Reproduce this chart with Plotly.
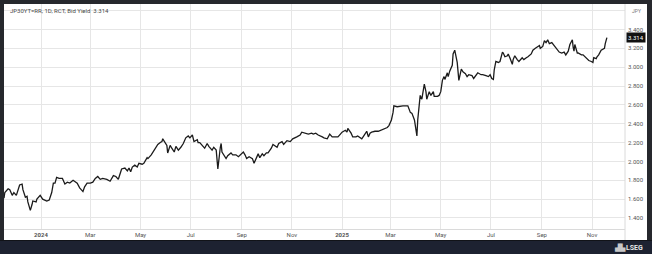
import plotly.graph_objects as go

dates = [
 "2023-11-17","2023-11-18","2023-11-22","2023-11-24","2023-11-27","2023-11-29","2023-12-02","2023-12-04","2023-12-06","2023-12-09",
 "2023-12-10","2023-12-13","2023-12-15","2023-12-16","2023-12-19","2023-12-21","2023-12-22","2023-12-26","2023-12-27","2023-12-31",
 "2024-01-02","2024-01-03","2024-01-08","2024-01-11","2024-01-14","2024-01-16","2024-01-18","2024-01-20","2024-01-23","2024-01-27",
 "2024-01-28","2024-01-30","2024-02-02","2024-02-05","2024-02-09","2024-02-14","2024-02-17","2024-02-21","2024-02-23","2024-02-26",
 "2024-03-01","2024-03-04","2024-03-07","2024-03-09","2024-03-10","2024-03-13","2024-03-16","2024-03-21","2024-03-25","2024-03-29",
 "2024-04-01","2024-04-04","2024-04-06","2024-04-08","2024-04-12","2024-04-15","2024-04-17","2024-04-19","2024-04-21","2024-04-24",
 "2024-04-27","2024-04-29","2024-05-03","2024-05-05","2024-05-09","2024-05-10","2024-05-14","2024-05-16","2024-05-19","2024-05-22",
 "2024-05-25","2024-05-27","2024-05-28","2024-05-31","2024-06-02","2024-06-03","2024-06-06","2024-06-08","2024-06-11","2024-06-13",
 "2024-06-16","2024-06-19","2024-06-22","2024-06-25","2024-06-28","2024-06-30","2024-07-03","2024-07-05","2024-07-09","2024-07-10",
 "2024-07-12","2024-07-16","2024-07-18","2024-07-21","2024-07-23","2024-07-27","2024-07-29","2024-08-01","2024-08-02","2024-08-03",
 "2024-08-06","2024-08-07","2024-08-08","2024-08-11","2024-08-13","2024-08-15","2024-08-19","2024-08-21","2024-08-25","2024-08-28",
 "2024-08-31","2024-09-03","2024-09-05","2024-09-07","2024-09-10","2024-09-14","2024-09-16","2024-09-20","2024-09-21","2024-09-23",
 "2024-09-26","2024-09-28","2024-10-01","2024-10-03","2024-10-07","2024-10-09","2024-10-12","2024-10-14","2024-10-16","2024-10-20",
 "2024-10-22","2024-10-26","2024-10-30","2024-11-02","2024-11-07","2024-11-11","2024-11-13","2024-11-17","2024-11-21","2024-11-25",
 "2024-11-27","2024-11-30","2024-12-03","2024-12-08","2024-12-10","2024-12-14","2024-12-17","2024-12-20","2024-12-23","2024-12-27",
 "2024-12-30","2025-01-01","2025-01-05","2025-01-07","2025-01-08","2025-01-12","2025-01-14","2025-01-18","2025-01-20","2025-01-25",
 "2025-01-28","2025-01-31","2025-02-02","2025-02-04","2025-02-06","2025-02-10","2025-02-14","2025-02-17","2025-02-20","2025-02-25",
 "2025-02-27","2025-03-02","2025-03-04","2025-03-05","2025-03-09","2025-03-13","2025-03-16","2025-03-21","2025-03-22","2025-03-25",
 "2025-03-27","2025-03-30","2025-04-01","2025-04-02","2025-04-03","2025-04-06","2025-04-08","2025-04-10","2025-04-11","2025-04-13",
 "2025-04-14","2025-04-17","2025-04-19","2025-04-22","2025-04-23","2025-04-27","2025-04-29","2025-05-01","2025-05-03","2025-05-05",
 "2025-05-06","2025-05-09","2025-05-10","2025-05-12","2025-05-15","2025-05-16","2025-05-18","2025-05-21","2025-05-22","2025-05-23",
 "2025-05-26","2025-05-28","2025-05-31","2025-06-02","2025-06-04","2025-06-08","2025-06-10","2025-06-13","2025-06-15","2025-06-19",
 "2025-06-21","2025-06-25","2025-06-28","2025-06-30","2025-07-02","2025-07-04","2025-07-05","2025-07-07","2025-07-10","2025-07-12",
 "2025-07-15","2025-07-16","2025-07-18","2025-07-21","2025-07-22","2025-07-24","2025-07-27","2025-07-28","2025-07-30","2025-08-02",
 "2025-08-04","2025-08-08","2025-08-10","2025-08-13","2025-08-15","2025-08-19","2025-08-21","2025-08-24","2025-08-26","2025-08-29",
 "2025-08-30","2025-09-02","2025-09-04","2025-09-06","2025-09-08","2025-09-10","2025-09-13","2025-09-15","2025-09-17","2025-09-19",
 "2025-09-22","2025-09-25","2025-09-28","2025-09-30","2025-10-03","2025-10-05","2025-10-08","2025-10-09","2025-10-10","2025-10-11",
 "2025-10-14","2025-10-15","2025-10-19","2025-10-21","2025-10-23","2025-10-26","2025-10-28","2025-10-31","2025-11-02","2025-11-03",
 "2025-11-06","2025-11-07","2025-11-09","2025-11-12","2025-11-14","2025-11-16","2025-11-17","2025-11-19",
]

yields = [
 1.61,1.67,1.71,1.70,1.64,1.67,1.64,1.70,1.75,1.76,
 1.70,1.62,1.63,1.57,1.48,1.54,1.58,1.57,1.60,1.64,
 1.62,1.60,1.58,1.59,1.67,1.77,1.77,1.83,1.82,1.82,
 1.80,1.76,1.78,1.77,1.80,1.77,1.72,1.68,1.73,1.77,
 1.77,1.78,1.82,1.83,1.84,1.81,1.82,1.81,1.79,1.85,
 1.84,1.81,1.86,1.92,1.93,1.90,1.93,1.89,1.94,1.96,
 1.94,1.98,1.97,1.98,2.04,2.03,2.07,2.10,2.15,2.18,
 2.20,2.21,2.24,2.20,2.17,2.09,2.17,2.14,2.10,2.16,
 2.12,2.15,2.19,2.25,2.27,2.25,2.28,2.21,2.23,2.20,
 2.20,2.16,2.14,2.19,2.16,2.12,2.15,2.12,2.04,1.92,
 2.15,2.19,2.10,2.05,2.03,2.06,2.09,2.07,2.07,2.05,
 2.07,2.10,2.07,2.03,2.05,2.03,1.98,2.05,2.08,2.04,
 2.08,2.06,2.09,2.09,2.14,2.18,2.16,2.15,2.19,2.21,
 2.18,2.22,2.21,2.24,2.26,2.28,2.31,2.30,2.29,2.30,
 2.29,2.30,2.28,2.26,2.25,2.24,2.29,2.26,2.26,2.26,
 2.29,2.31,2.33,2.31,2.35,2.30,2.26,2.26,2.27,2.24,
 2.28,2.32,2.26,2.30,2.31,2.32,2.32,2.33,2.34,2.36,
 2.38,2.44,2.52,2.59,2.58,2.59,2.59,2.59,2.59,2.52,
 2.51,2.44,2.33,2.27,2.44,2.70,2.66,2.76,2.82,2.74,
 2.66,2.74,2.70,2.74,2.69,2.69,2.70,2.74,2.86,2.90,
 2.87,2.94,2.90,2.96,3.02,3.14,3.18,3.05,2.97,2.86,
 2.98,2.95,2.93,2.90,2.92,2.91,2.88,2.91,2.94,2.92,
 2.92,2.91,2.90,2.92,2.88,2.87,2.97,3.06,3.05,3.06,
 3.16,3.15,3.11,3.12,3.14,3.10,3.03,3.08,3.12,3.08,
 3.06,3.10,3.08,3.10,3.11,3.14,3.18,3.20,3.21,3.23,
 3.20,3.22,3.28,3.26,3.29,3.25,3.26,3.24,3.22,3.19,
 3.16,3.15,3.16,3.13,3.17,3.24,3.29,3.21,3.17,3.24,
 3.15,3.15,3.13,3.13,3.11,3.08,3.07,3.06,3.05,3.10,
 3.09,3.11,3.13,3.18,3.19,3.20,3.25,3.314,
]

x_tick_vals = ["2024-01-01","2024-03-01","2024-05-01","2024-07-01","2024-09-01","2024-11-01",
               "2025-01-01","2025-03-01","2025-05-01","2025-07-01","2025-09-01","2025-11-01"]
x_tick_text = ["<b>2024</b>","Mar","May","Jul","Sep","Nov","<b>2025</b>","Mar","May","Jul","Sep","Nov"]
y_tick_vals = [1.4,1.6,1.8,2.0,2.2,2.4,2.6,2.8,3.0,3.2,3.4,3.6]
y_tick_text = ["1.400","1.600","1.800","2.000","2.200","2.400","2.600","2.800","3.000","3.200","3.400",""]

title_text = "JP30YT=RR, 1D, RCT, Bid Yield  3.314"
last_value = "3.314"

W, H = 652, 254
L, R, T, B = 4, 27, 4, 25
pw, ph = W - L - R, H - T - B

def px_x(p):
    return (p - L) / pw

def px_y(p):
    return (H - B - p) / ph

fig = go.Figure()
fig.add_trace(go.Scatter(x=dates, y=yields, mode="lines",
                         line=dict(color="#1b1b1b", width=1.3), hoverinfo="skip"))

font_fam = "Roboto, Arial, sans-serif"
fig.update_layout(
    width=W, height=H,
    margin=dict(l=L, r=R, t=T, b=B, pad=0),
    paper_bgcolor="#ffffff", plot_bgcolor="#ffffff",
    showlegend=False,
    font=dict(family=font_fam, size=6, color="#555555"),
    xaxis=dict(range=["2023-11-17", "2025-12-11"], tickmode="array",
               tickvals=x_tick_vals, ticktext=x_tick_text,
               showgrid=True, gridcolor="#e6e6e6", gridwidth=1,
               showline=True, linecolor="#dadada", linewidth=1,
               ticks="", ticklabelstandoff=0,
               tickfont=dict(size=6, color="#555555"), zeroline=False),
    yaxis=dict(range=[1.283, 3.67], side="right", tickmode="array",
               tickvals=y_tick_vals, ticktext=y_tick_text,
               showgrid=True, gridcolor="#e6e6e6", gridwidth=1,
               showline=False, ticks="", ticklabelstandoff=2,
               tickfont=dict(size=6, color="#555555"), zeroline=False),
)

frame = "#26282d"
shapes = [
    dict(type="rect", xref="paper", yref="paper", x0=px_x(0), x1=px_x(4), y0=px_y(254), y1=px_y(0),
         fillcolor=frame, line=dict(width=0), layer="above"),
    dict(type="rect", xref="paper", yref="paper", x0=px_x(0), x1=px_x(652), y0=px_y(4), y1=px_y(0),
         fillcolor=frame, line=dict(width=0), layer="above"),
    dict(type="rect", xref="paper", yref="paper", x0=px_x(647), x1=px_x(652), y0=px_y(254), y1=px_y(0),
         fillcolor=frame, line=dict(width=0), layer="above"),
    dict(type="rect", xref="paper", yref="paper", x0=px_x(0), x1=px_x(652), y0=px_y(254), y1=px_y(240),
         fillcolor="#1d2231", line=dict(width=0), layer="above"),
    dict(type="line", xref="paper", yref="paper", x0=px_x(0), x1=px_x(652), y0=px_y(240.5), y1=px_y(240.5),
         line=dict(color="#111318", width=1), layer="above"),
    dict(type="line", xref="paper", yref="paper", x0=px_x(625), x1=px_x(625), y0=px_y(240), y1=px_y(4),
         line=dict(color="#dadada", width=1), layer="above"),
]
fig.update_layout(shapes=shapes)

fig.add_annotation(xref="paper", yref="paper", x=px_x(8), y=px_y(11), text=title_text,
                   showarrow=False, xanchor="left", yanchor="middle",
                   font=dict(size=6, color="#4a4a4a", family=font_fam))
fig.add_annotation(xref="paper", yref="paper", x=px_x(636), y=px_y(11), text="JPY",
                   showarrow=False, xanchor="center", yanchor="middle",
                   font=dict(size=5, color="#777777", family=font_fam))
fig.add_annotation(xref="paper", yref="y", x=px_x(626), y=3.314, text=last_value,
                   showarrow=False, xanchor="left", yanchor="middle",
                   bgcolor="#111111", borderpad=1,
                   font=dict(size=6, color="#ffffff", family=font_fam))
fig.add_annotation(xref="paper", yref="paper", x=px_x(645), y=px_y(247.5), text="<b>LSEG</b>",
                   showarrow=False, xanchor="right", yanchor="middle",
                   font=dict(size=7, color="#e8e8e8", family=font_fam))
fig.add_annotation(xref="paper", yref="paper", x=px_x(628), y=px_y(247.5), text="▟▙",
                   showarrow=False, xanchor="right", yanchor="middle",
                   font=dict(size=7, color="#c8c8c8", family=font_fam))

fig.write_html("out.html")
